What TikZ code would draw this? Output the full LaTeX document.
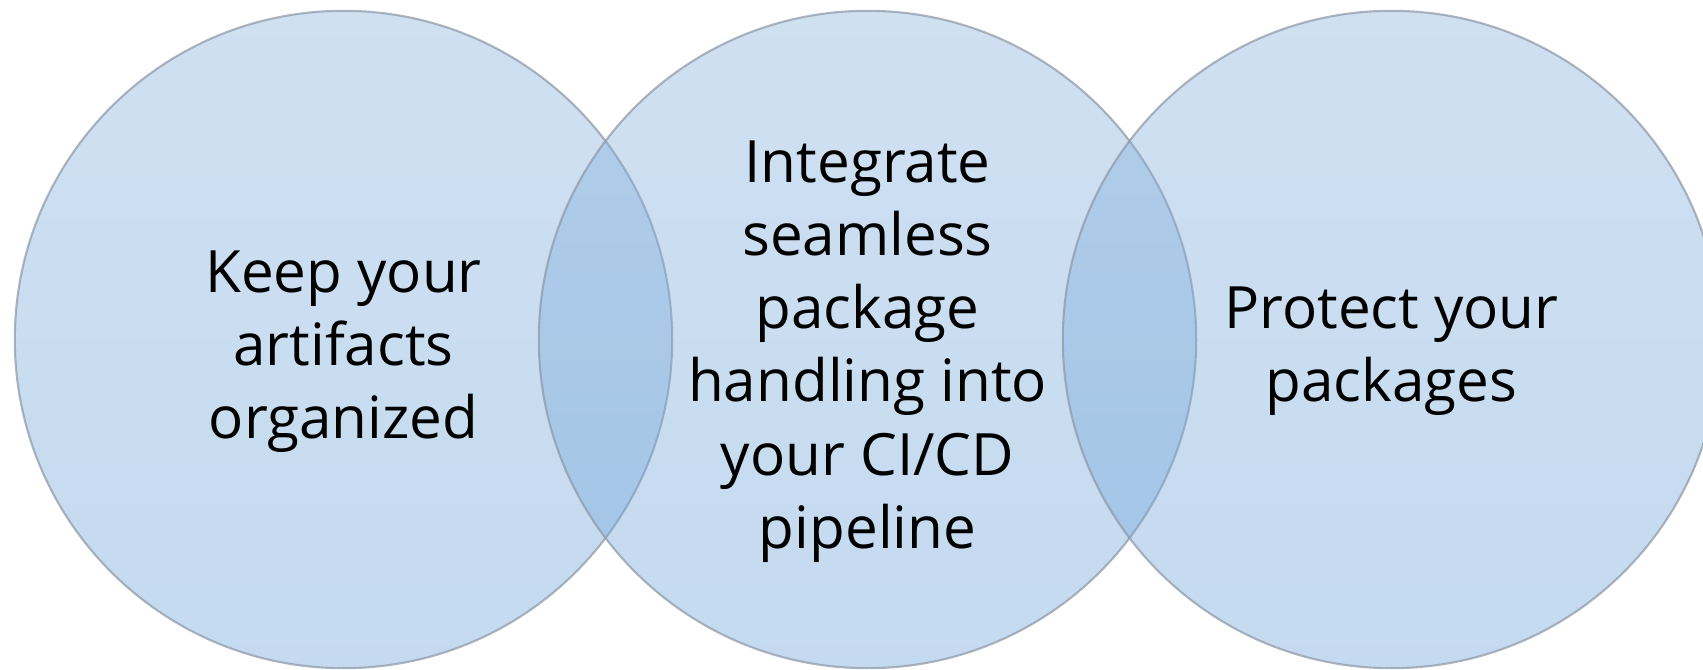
\documentclass[tikz,border=0pt]{standalone}
\usepackage{fontspec}
\setmainfont{Open Sans}
\definecolor{circtop}{RGB}{135,177,220}
\definecolor{circbot}{RGB}{108,163,217}
\definecolor{circline}{RGB}{140,150,165}
\tikzset{
	venn/.style={circle, minimum size=6.57cm, inner sep=0pt, draw=circline, line width=0.6pt,
		top color=circtop, bottom color=circbot, fill opacity=0.4, draw opacity=0.7},
	venntext/.style={align=center, yshift=-0.12cm, font=\fontsize{16.6}{20.8}\selectfont}
}
\begin{document}
\begin{tikzpicture}[x=0.01cm, y=-0.01cm]
			\useasboundingbox (0,0) rectangle (1703,670);
			\node[venn] (keep) at (343.5,339.5) {};
			\node[venn] (integrate) at (867.5,339.5) {};
			\node[venn] (protect) at (1391.5,339.5) {};
			
			\node[venntext] (keeptext) at (keep.center) {Keep your\\artifacts\\organized};
			\node[venntext] (integratetext) at (integrate.center) {Integrate\\seamless\\package\\handling into\\your CI/CD\\pipeline};
			\node[venntext] (protecttext) at (protect.center) {Protect your\\packages};
		\end{tikzpicture}
\end{document}
